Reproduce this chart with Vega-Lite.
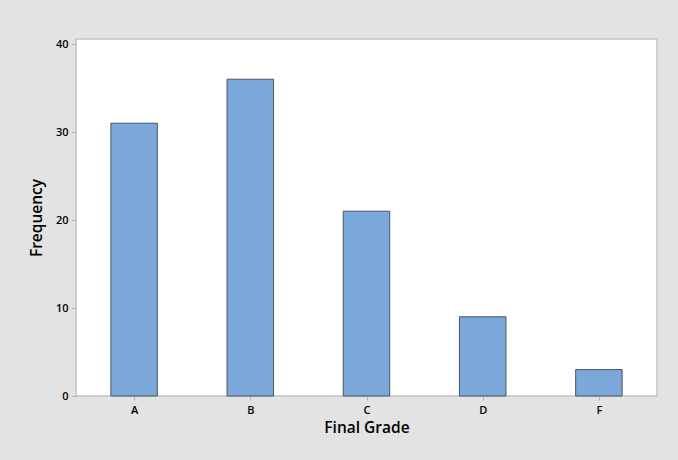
{
  "$schema": "https://vega.github.io/schema/vega-lite/v6.json",
  "autosize": {"type": "none"},
  "width": 581,
  "height": 357,
  "padding": {"left": 76, "top": 39, "right": 21, "bottom": 64},
  "background": "#e3e3e3",
  "view": {"fill": "white", "stroke": "#c3c3c3", "strokeWidth": 1.5},
  "data": {"values": [
    {"grade": "A", "count": 31},
    {"grade": "B", "count": 36},
    {"grade": "C", "count": 21},
    {"grade": "D", "count": 9},
    {"grade": "F", "count": 3}
  ]},
  "mark": {"type": "bar", "fill": "#7ba7da", "stroke": "#4b5563", "strokeWidth": 1},
  "encoding": {
    "x": {
      "field": "grade", "type": "nominal",
      "scale": {"paddingInner": 0.6, "paddingOuter": 0.3},
      "axis": {"title": "Final Grade", "labelAngle": 0, "domain": false, "grid": false,
        "tickColor": "#b0b0b0", "tickSize": 4, "tickOffset": 0, "labelPadding": 4,
        "labelFont": "Open Sans", "labelFontSize": 11, "labelFontWeight": 600, "labelColor": "#000",
        "titleFont": "Open Sans", "titleFontSize": 15.5, "titleFontWeight": 600, "titleColor": "#000", "titlePadding": 5}
    },
    "y": {
      "field": "count", "type": "quantitative",
      "scale": {"domain": [0, 40.57], "nice": false},
      "axis": {"title": "Frequency", "values": [0, 10, 20, 30, 40], "domain": false, "grid": false,
        "tickColor": "#b0b0b0", "tickSize": 5, "labelPadding": 3,
        "labelFont": "Open Sans", "labelFontSize": 11, "labelFontWeight": 600, "labelColor": "#000",
        "titleFont": "Open Sans", "titleFontSize": 15.5, "titleFontWeight": 600, "titleColor": "#000", "titlePadding": 11}
    }
  }
}
